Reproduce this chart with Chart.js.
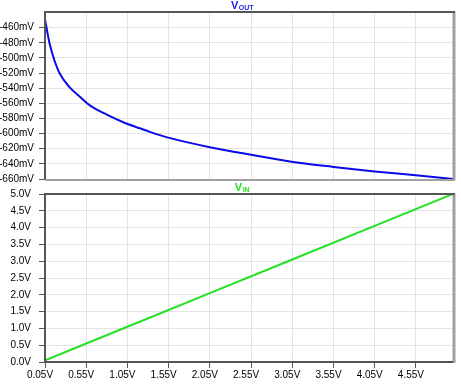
<!DOCTYPE html>
<html>
<head>
<meta charset="utf-8">
<script src="https://cdn.jsdelivr.net/npm/chart.js@4"></script>
<style>
  body { margin: 0; background: #fff; }
  #wrap { position: relative; width: 461px; height: 392px; }
  .box { position: absolute; left: 0; width: 461px; }
</style>
</head>
<body>
<div id="wrap">
  <div class="box" style="top:180px;height:212px"><canvas id="inChart"></canvas></div>
  <div class="box" style="top:0;height:190px"><canvas id="outChart"></canvas></div>
</div>
<script>
// sweep (V) shared by both panes
const xTicks = [0.05, 0.55, 1.05, 1.55, 2.05, 2.55, 3.05, 3.55, 4.05, 4.55];

// V(out) in mV
const outX  = [0.05, 0.08, 0.11, 0.17, 0.23, 0.35, 0.48, 0.6, 0.8, 1.0, 1.2, 1.33, 1.57, 2.05, 2.55, 3.15, 3.55, 4.05, 4.55, 5.0];
const outMv = [-449, -467, -483, -505, -521, -539, -552, -563, -575, -585, -593, -598, -606, -618, -628, -639, -644, -650, -655, -660];
const outTicks = [-460, -480, -500, -520, -540, -560, -580, -600, -620, -640, -660];

// V(in) in V, lower pane
const inX = [0.05, 1.05, 2.05, 3.05, 4.05, 5.0];
const inV = [0.05, 1.05, 2.05, 3.05, 4.05, 5.0];
const inTicks = [0, 0.5, 1, 1.5, 2, 2.5, 3, 3.5, 4, 4.5, 5];

const FONT = "Liberation Sans";
const toPts = (xs, ys) => xs.map((x, i) => ({ x: x, y: ys[i] }));

function framePlugin(title, sub, color, bottomDark) {
    return {
        id: "frame",
        afterDraw(chart) {
            const ctx = chart.ctx;
            const a = chart.chartArea;
            ctx.save();
            // light right / bottom edge
            ctx.strokeStyle = "#a0a0a0";
            ctx.lineWidth = 3;
            ctx.beginPath();
            ctx.moveTo(a.right + 1, a.top);
            ctx.lineTo(a.right + 1, a.bottom + 1);
            ctx.stroke();
            if (!bottomDark) {
                ctx.lineWidth = 2;
                ctx.beginPath();
                ctx.moveTo(a.left, a.bottom + 1);
                ctx.lineTo(a.right + 2, a.bottom + 1);
                ctx.stroke();
            }
            // dark top / left edge
            ctx.strokeStyle = "#555";
            ctx.lineWidth = 2;
            ctx.beginPath();
            ctx.moveTo(a.left, a.bottom + (bottomDark ? 1 : 0));
            ctx.lineTo(a.left, a.top);
            ctx.lineTo(a.right + 2, a.top);
            ctx.stroke();
            if (bottomDark) {
                ctx.beginPath();
                ctx.moveTo(a.left, a.bottom);
                ctx.lineTo(a.right, a.bottom);
                ctx.stroke();
            }
            // title with subscript
            ctx.fillStyle = color;
            ctx.textBaseline = "alphabetic";
            ctx.font = "bold 11px " + FONT;
            const w1 = ctx.measureText(title).width;
            ctx.font = "bold 7px " + FONT;
            const w2 = ctx.measureText(sub).width;
            const x0 = 242 - (w1 + w2) / 2;
            ctx.font = "bold 11px " + FONT;
            ctx.fillText(title, x0, a.top - 3);
            ctx.font = "bold 7px " + FONT;
            ctx.fillText(sub, x0 + w1 + 0.5, a.top - 2.5);
            ctx.restore();
        }
    };
}

const gridBase = {
    color: "#e4e4e4",
    tickColor: "#555",
    tickLength: 6,
    lineWidth: 1
};

function xScale(showLabels) {
    return {
        type: "linear",
        min: 0.05,
        max: 5.0,
        afterBuildTicks: s => { s.ticks = xTicks.map(v => ({ value: v })); },
        afterFit: s => { s.height = showLabels ? 30 : 0; },
        grid: Object.assign({}, gridBase, { drawTicks: showLabels }),
        border: { display: false },
        ticks: {
            display: showLabels,
            color: "#000",
            font: { family: FONT, size: 10 },
            padding: 1,
            labelOffset: -5,
            maxRotation: 0,
            autoSkip: false,
            callback: v => v.toFixed(2) + "V"
        }
    };
}

new Chart(document.getElementById("outChart"), {
    type: "line",
    data: {
        datasets: [{
            label: "V(out)",
            data: toPts(outX, outMv),
            borderColor: "#0a0ae6",
            borderWidth: 2,
            pointRadius: 0,
            cubicInterpolationMode: "monotone"
        }]
    },
    options: {
        responsive: true,
        maintainAspectRatio: false,
        animation: false,
        layout: { padding: { top: 12, right: 8, bottom: 4, left: 0 } },
        plugins: { legend: { display: false }, tooltip: { enabled: false } },
        scales: {
            x: xScale(false),
            y: {
                min: -660,
                max: -439.3,
                afterBuildTicks: s => { s.ticks = outTicks.map(v => ({ value: v })); },
                afterFit: s => { s.width = 45; },
                grid: gridBase,
                border: { display: false },
                ticks: {
                    color: "#000",
                    font: { family: FONT, size: 10 },
                    padding: 5,
                    callback: v => v + "mV"
                }
            }
        }
    },
    plugins: [framePlugin("V", "OUT", "#1a1ae6", false)]
});

new Chart(document.getElementById("inChart"), {
    type: "line",
    data: {
        datasets: [{
            label: "V(in)",
            data: toPts(inX, inV),
            borderColor: "#22e022",
            borderWidth: 2,
            pointRadius: 0
        }]
    },
    options: {
        responsive: true,
        maintainAspectRatio: false,
        animation: false,
        layout: { padding: { top: 12, right: 8, bottom: 0, left: 0 } },
        plugins: { legend: { display: false }, tooltip: { enabled: false } },
        scales: {
            x: xScale(true),
            y: {
                min: 0,
                max: 5,
                afterBuildTicks: s => { s.ticks = inTicks.map(v => ({ value: v })); },
                afterFit: s => { s.width = 45; },
                grid: gridBase,
                border: { display: false },
                ticks: {
                    color: "#000",
                    font: { family: FONT, size: 10 },
                    padding: 8,
                    callback: v => v.toFixed(1) + "V"
                }
            }
        }
    },
    plugins: [framePlugin("V", "IN", "#22e022", true)]
});
</script>
</body>
</html>
